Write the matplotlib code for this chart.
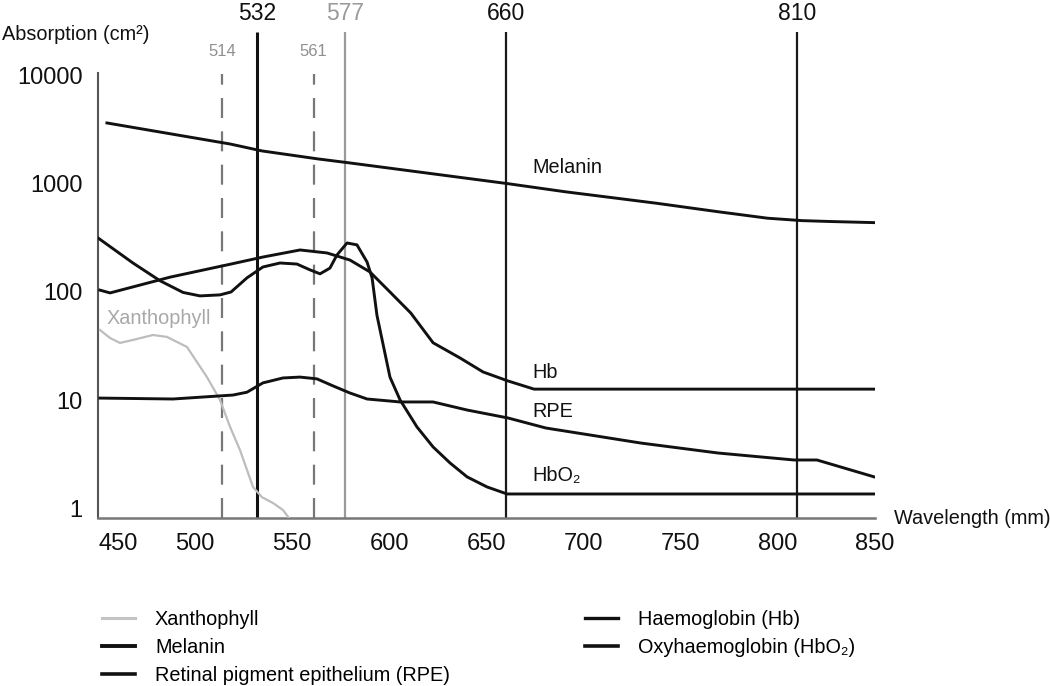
import numpy as np
import matplotlib
matplotlib.use("Agg")
import matplotlib.pyplot as plt
from matplotlib.lines import Line2D
from matplotlib.ticker import FixedLocator, NullLocator, FixedFormatter
from matplotlib.transforms import blended_transform_factory, ScaledTranslation

plt.rcParams['font.family'] = ['Liberation Sans', 'DejaVu Sans']

# ---------------- data ----------------
xanth_wl = [451.0, 456.2, 461.3, 468.0, 478.3, 485.5, 495.8, 506.1, 512.8, 518.0,
            523.1, 529.8, 534.4, 540.1, 545.2, 548.3]
xanth_abs = [44.6, 37.6, 33.9, 36.1, 40.1, 38.5, 31.1, 16.4, 10.1, 5.69,
             3.48, 1.59, 1.28, 1.13, 0.975, 0.822]

melanin_wl = [454.6, 518.0, 534.4, 563.3, 579.7, 660.6, 690.3, 737.6, 769.1, 794.7,
              812.5, 828.2, 850.0]
melanin_abs = [3622, 2317, 2000, 1687, 1549, 1000, 841, 658, 550, 479,
               455, 446, 436]

rpe_wl = [451.0, 488.6, 519.5, 526.7, 534.9, 545.2, 554.0, 562.7, 571.0, 579.7,
          588.5, 605.5, 622.5, 640.0, 661.1, 680.6, 729.5, 769.2, 808.3, 820.1, 850.0]
rpe_abs = [10.5, 10.3, 11.2, 11.9, 14.5, 16.1, 16.4, 15.8, 13.6, 11.7,
           10.3, 9.67, 9.67, 8.15, 6.88, 5.56, 4.04, 3.27, 2.82, 2.82, 1.96]

hb_wl = [451.0, 456.2, 487.1, 518.5, 534.9, 554.0, 567.9, 579.7, 590.0, 600.3,
         611.0, 622.5, 636.4, 648.2, 661.1, 674.5, 850.0]
hb_abs = [104, 98, 137, 181, 210, 244, 229, 197, 153, 100,
          64, 34, 24.6, 18.3, 15.1, 12.7, 12.7]

hbo2_wl = [450.0, 468.0, 481.9, 493.8, 502.5, 512.8, 518.5, 526.7, 534.9, 543.7,
           552.4, 559.1, 564.3, 569.4, 573.0, 578.2, 583.3, 588.5, 591.1, 593.6,
           595.2, 600.3, 605.5, 614.2, 622.5, 631.2, 640.0, 650.3, 660.6, 850.0]
hbo2_abs = [315, 185, 127, 99, 92, 94, 100, 135, 170, 185,
            181, 160, 147, 166, 219, 283, 272, 189, 135, 61,
            44.6, 16.4, 10.1, 5.69, 3.72, 2.65, 1.97, 1.59, 1.37, 1.37]

laser_solid = [532, 577, 660, 810]
laser_solid_labels = ['532', '577', '660', '810']
laser_dashed = [514, 561]
laser_dashed_labels = ['514', '561']

x_ticks = [450, 500, 550, 600, 650, 700, 750, 800, 850]
x_tick_labels = ['450', '500', '550', '600', '650', '700', '750', '800', '850']
y_ticks = [1, 10, 100, 1000, 10000]
y_tick_labels = ['1', '10', '100', '1000', '10000']

legend_names = ['Xanthophyll', 'Melanin', 'Retinal pigment epithelium (RPE)',
                'Haemoglobin (Hb)', 'Oxyhaemoglobin (HbO\u2082)']

# ---------------- figure ----------------
W, H = 1050, 686
fig = plt.figure(figsize=(W / 100, H / 100), dpi=100)
ax = fig.add_axes([98 / W, (H - 518) / H, (875 - 98) / W, (518 - 32) / H])

y_bottom = 0.8225
y_top = 25000
y_axis_top = 10480
ax.set_yscale('log')
ax.set_xlim(450, 850)
ax.set_ylim(y_bottom, y_top)

BLACK = '#111111'
# vertical laser lines
solid_colors = [BLACK, '#9a9a9a', '#1a1a1a', '#1a1a1a']
solid_lw = [2.2, 1.6, 1.6, 1.6]
for wl, c, lw in zip(laser_solid, solid_colors, solid_lw):
    ax.vlines(wl, y_bottom, y_top, colors=c, linewidth=lw, zorder=2)
for wl in laser_dashed:
    ax.vlines(wl, y_bottom, 10260, colors='#777777', linewidth=1.6,
              linestyles=(0, (9, 6)), zorder=2)

# curves
curve_lw = 2.1
ax.plot(xanth_wl, xanth_abs, color='#bdbdbd', lw=1.6, zorder=3, solid_joinstyle='round')
for wl, ab in [(melanin_wl, melanin_abs), (rpe_wl, rpe_abs),
               (hb_wl, hb_abs), (hbo2_wl, hbo2_abs)]:
    ax.plot(wl, ab, color=BLACK, lw=curve_lw, zorder=3, solid_joinstyle='round')

# spines
for s in ['top', 'right']:
    ax.spines[s].set_visible(False)
ax.spines['left'].set_bounds(y_bottom, y_axis_top)
ax.spines['left'].set_color('#555555')
ax.spines['left'].set_linewidth(1.5)
ax.spines['bottom'].set_color('#777777')
ax.spines['bottom'].set_linewidth(1.8)

# ticks
ax.xaxis.set_major_locator(FixedLocator(x_ticks))
ax.xaxis.set_major_formatter(FixedFormatter(x_tick_labels))
ax.yaxis.set_major_locator(FixedLocator(y_ticks))
ax.yaxis.set_major_formatter(FixedFormatter(y_tick_labels))
ax.yaxis.set_minor_locator(NullLocator())
ax.xaxis.set_minor_locator(NullLocator())
ax.tick_params(axis='both', length=0, labelsize=17, colors='#111111')
ax.tick_params(axis='x', pad=11)
ax.tick_params(axis='y', pad=11)

fig.canvas.draw()
first_tick = ax.xaxis.get_major_ticks()[0]
first_tick.label1.set_transform(first_tick.label1.get_transform() +
                                ScaledTranslation(0.20, 0, fig.dpi_scale_trans))

# labels above the laser lines
trans_top = blended_transform_factory(ax.transData, fig.transFigure)
for wl, lab, c in zip(laser_solid, laser_solid_labels, [BLACK, '#9a9a9a', BLACK, BLACK]):
    ax.text(wl, 1 - 13 / H, lab, transform=trans_top, ha='center', va='center',
            fontsize=16.5, color=c)
for wl, lab in zip(laser_dashed, laser_dashed_labels):
    ax.text(wl, 1 - 52 / H, lab, transform=trans_top, ha='center', va='center',
            fontsize=12, color='#909090')

# axis titles
fig.text(2 / W, 1 - 34 / H, 'Absorption (cm\u00b2)', ha='left', va='center',
         fontsize=14.3, color=BLACK)
fig.text(894 / W, 1 - 518 / H, 'Wavelength (mm)', ha='left', va='center',
         fontsize=14.3, color=BLACK)

# curve labels
ax.text(673.4, 1393, 'Melanin', ha='left', va='center', fontsize=14.3, color=BLACK)
ax.text(673.4, 17.9, 'Hb', ha='left', va='center', fontsize=14.3, color=BLACK)
ax.text(673.4, 7.82, 'RPE', ha='left', va='center', fontsize=14.3, color=BLACK)
ax.text(673.4, 2.05, 'HbO\u2082', ha='left', va='center', fontsize=14.3, color=BLACK)
ax.text(454.6, 57.5, 'Xanthophyll', ha='left', va='center', fontsize=14.3, color='#a8a8a8')

# legend
handles = [
    Line2D([], [], color='#c4c4c4', lw=2.2),
    Line2D([], [], color=BLACK, lw=2.8),
    Line2D([], [], color=BLACK, lw=2.6),
    Line2D([], [], color=BLACK, lw=2.4),
    Line2D([], [], color=BLACK, lw=2.6),
]
fig.legend(handles, legend_names, loc='upper left', ncol=2,
           bbox_to_anchor=(102 / W, 1 - 610 / H), frameon=False,
           borderpad=0, borderaxespad=0, fontsize=14.3,
           handlelength=1.67, handletextpad=1.0, columnspacing=6.8,
           labelspacing=0.45)

fig.savefig('out.png', dpi=100)
